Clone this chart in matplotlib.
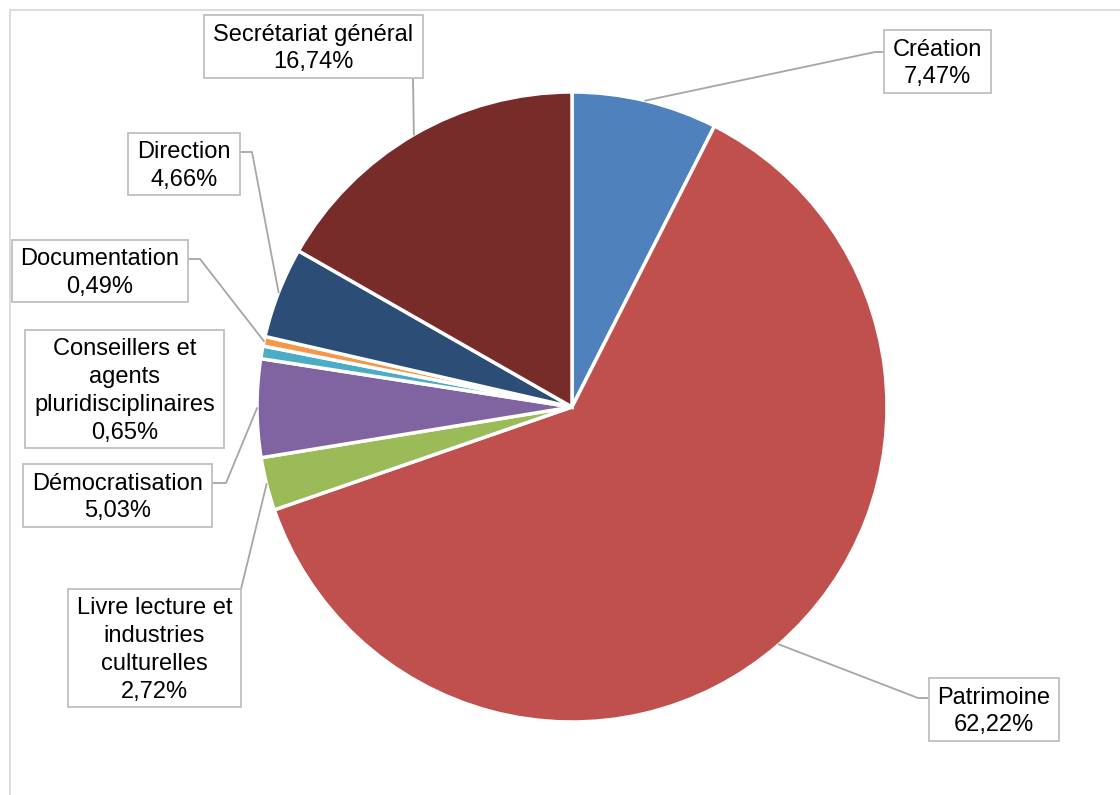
import numpy as np
import matplotlib
matplotlib.use("Agg")
import matplotlib.pyplot as plt
from matplotlib.patches import Rectangle

categories = ["Création", "Patrimoine", "Livre lecture et\nindustries\nculturelles",
              "Démocratisation", "Conseillers et\nagents\npluridisciplinaires",
              "Documentation", "Direction", "Secrétariat général"]
shares = [7.47, 62.22, 2.72, 5.03, 0.65, 0.49, 4.66, 16.74]
colors = ["#4F81BD", "#C0504D", "#9BBB59", "#8064A2", "#4BACC6",
          "#F79646", "#2C4D75", "#772C2A"]

W, H = 1120, 795
fig = plt.figure(figsize=(W / 100, H / 100), dpi=100)
ax = fig.add_axes([0, 0, 1, 1])


# pixel coords with y measured from the top
def py(y):
    return H - y


cx, cy, r = 572, py(407), 315
ax.pie(shares, colors=colors, startangle=90, counterclock=False,
       center=(cx, cy), radius=r, frame=True,
       wedgeprops=dict(edgecolor="white", linewidth=2.5))
ax.set_xlim(0, W)
ax.set_ylim(0, H)
ax.set_aspect("equal")
ax.axis("off")

# outer frame
ax.add_patch(Rectangle((10, py(1000)), 1200, 990, fill=False,
                       edgecolor="#D9D9D9", lw=1.3))

# label boxes: (left, top, right, bottom) in pixels, leader path after the anchor
boxes = [
    (884, 30, 991, 93, [(875, 52), (884, 52)]),
    (929, 678, 1059, 741, [(918, 698), (929, 698)]),
    (68, 589, 241, 707, [(241, 589)]),
    (23, 464, 212, 527, [(226, 483), (212, 483)]),
    (25, 330, 224, 448, None),
    (12, 240, 188, 302, [(200, 259), (188, 259)]),
    (128, 133, 240, 195, [(252, 152), (240, 152)]),
    (204, 15, 423, 78, [(413, 78)]),
]

cum = np.cumsum([0] + shares[:-1])
total = sum(shares)
for name, v, c0, (x0, y0, x1, y1, path) in zip(categories, shares, cum, boxes):
    mid = np.deg2rad(90 - (c0 + v / 2) / total * 360)
    ax0, ay0 = cx + r * np.cos(mid), cy + r * np.sin(mid)
    if path:
        xs = [ax0] + [p[0] for p in path]
        ys = [ay0] + [py(p[1]) for p in path]
        ax.plot(xs, ys, color="#A6A6A6", lw=1.3, zorder=3)
    ax.add_patch(Rectangle((x0, py(y1)), x1 - x0, y1 - y0, facecolor="white",
                           edgecolor="#BFBFBF", lw=1.3, zorder=4))
    label = name + "\n" + f"{v:.2f}".replace(".", ",") + "%"
    ax.text((x0 + x1) / 2, py((y0 + y1) / 2 + 2), label, ha="center", va="center",
            fontsize=17, family="Liberation Sans", linespacing=1.35,
            color="black", zorder=5)

fig.savefig("out.png", dpi=100)
